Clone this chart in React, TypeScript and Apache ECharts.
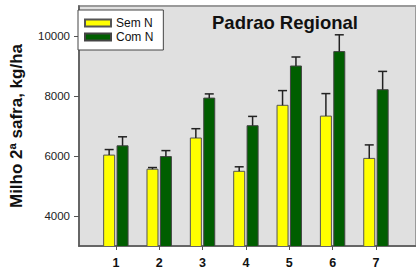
import React, { useEffect, useRef } from "react";
import * as echarts from "echarts";

const categories = [1, 2, 3, 4, 5, 6, 7];
const semN = [6030, 5560, 6600, 5490, 7690, 7330, 5920];
const semNErr = [185, 55, 310, 150, 490, 750, 450];
const comN = [6340, 5980, 7930, 7010, 9000, 9480, 8210];
const comNErr = [300, 200, 140, 310, 300, 560, 610];
const yTicks = [4000, 6000, 8000, 10000];
const yMin = 3000;
const yMax = 11000;

const seriesNames = ["Sem N", "Com N"];
const colors = ["#ffff00", "#005e00"];
const borders = ["#555", "#444"];
const FONT = "Liberation Sans";

function barSeries(idx: number, values: number[], errs: number[], offset: number) {
  return {
    name: seriesNames[idx],
    type: "custom",
    z: 3,
    itemStyle: { color: colors[idx], borderColor: borders[idx], borderWidth: 1 },
    data: categories.map((c, i) => [c, values[i], errs[i]]),
    encode: { x: 0, y: 1 },
    clip: true,
    renderItem: (params: any, api: any) => {
      const x = api.value(0);
      const v = api.value(1);
      const e = api.value(2);
      const p0 = api.coord([x, v]);
      const pb = api.coord([x, yMin]);
      const p1 = api.coord([x, v + e]);
      const cx = p0[0] + offset;
      const w = 11;
      const lineStyle = { stroke: "#222", lineWidth: 1.5 };
      return {
        type: "group",
        children: [
          {
            type: "rect",
            shape: { x: cx - w / 2, y: p0[1], width: w, height: pb[1] - p0[1] + 1 },
            style: { fill: colors[idx], stroke: borders[idx], lineWidth: 1 },
          },
          { type: "line", shape: { x1: cx, y1: p0[1], x2: cx, y2: p1[1] }, style: lineStyle },
          { type: "line", shape: { x1: cx - 4.5, y1: p1[1], x2: cx + 4.5, y2: p1[1] }, style: lineStyle },
        ],
      };
    },
  };
}

export default function App() {
  const ref = useRef<HTMLDivElement>(null);
  useEffect(() => {
    if (!ref.current) return;
    const chart = echarts.init(ref.current, undefined, { renderer: "svg" });
    chart.setOption({
      animation: false,
      textStyle: { fontFamily: FONT },
      title: {
        text: "Padrao Regional",
        left: 212,
        top: 13,
        padding: 0,
        textStyle: { fontSize: 18.5, fontWeight: "bold", color: "#111", fontFamily: FONT },
      },
      legend: {
        data: seriesNames,
        orient: "vertical",
        left: 78,
        top: 10,
        padding: [7, 10, 7, 6],
        itemGap: 2,
        itemWidth: 26,
        itemHeight: 7,
        itemTextGap: 7,
        icon: "rect",
        backgroundColor: "#fff",
        borderColor: "#444",
        borderWidth: 1,
        textStyle: { fontSize: 12, color: "#111", fontFamily: FONT },
      },
      grid: {
        left: 75,
        top: 6,
        right: -4,
        bottom: 24,
        show: true,
        backgroundColor: "#e0e0e0",
        borderColor: "#9a9a9a",
        borderWidth: 2,
      },
      xAxis: {
        type: "value",
        min: 0.15,
        max: 7.924,
        axisLine: { show: true, onZero: false, lineStyle: { color: "#555", width: 1.5 } },
        axisTick: { show: true, customValues: categories, length: 4, lineStyle: { color: "#555" } },
        axisLabel: {
          customValues: categories,
          margin: 10,
          fontSize: 12.5,
          fontWeight: "bold",
          color: "#111",
          fontFamily: FONT,
        },
        splitLine: { show: false },
      },
      yAxis: {
        type: "value",
        min: yMin,
        max: yMax,
        interval: 1000,
        name: "Milho 2ª safra, kg/ha",
        nameLocation: "middle",
        nameRotate: 90,
        nameGap: 54,
        nameTextStyle: { fontSize: 17, fontWeight: "bold", color: "#111", fontFamily: FONT },
        axisLine: { show: true, lineStyle: { color: "#555", width: 1.5 } },
        axisTick: { show: true, customValues: yTicks, length: 5, lineStyle: { color: "#555" } },
        axisLabel: {
          customValues: yTicks,
          margin: 9,
          fontSize: 11.5,
          color: "#222",
          fontFamily: FONT,
          formatter: (v: number) => String(v),
        },
        splitLine: { show: false },
      },
      series: [barSeries(0, semN, semNErr, -6.7), barSeries(1, comN, comNErr, 6.7)],
    });
    return () => chart.dispose();
  }, []);
  return (
    <div
      ref={ref}
      style={{ position: "fixed", left: 0, top: 0, width: 416, height: 270, background: "#fff" }}
    />
  );
}
